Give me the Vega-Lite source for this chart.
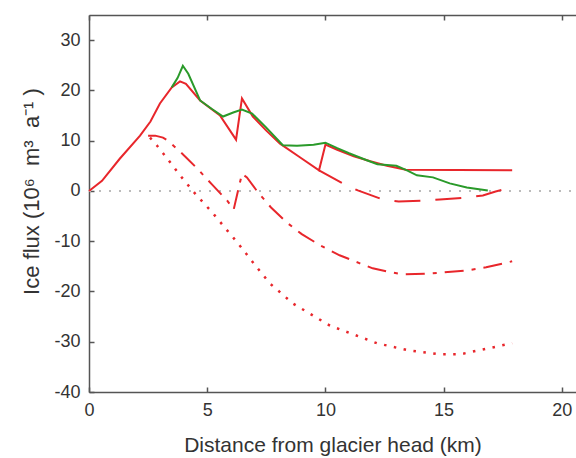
{
  "$schema": "https://vega.github.io/schema/vega-lite/v6.json",
  "width": 487,
  "height": 377,
  "autosize": {"type": "none"},
  "padding": {"left": 89, "top": 15, "right": 0, "bottom": 66},
  "background": "white",
  "view": {"stroke": null},
  "config": {
    "font": "Liberation Sans",
    "axis": {
      "domainColor": "#555555",
      "domainWidth": 1.5,
      "tickColor": "#555555",
      "tickWidth": 1.5,
      "tickSize": -5,
      "grid": false,
      "labelFlush": false,
      "labelColor": "#333333",
      "titleColor": "#333333",
      "labelFont": "Liberation Sans",
      "titleFont": "Liberation Sans",
      "labelFontSize": 18,
      "titleFontSize": 21,
      "titleFontWeight": "normal"
    }
  },
  "datasets": {
    "lines": [
      {"series": "zero", "x": 0, "y": 0},
      {"series": "zero", "x": 20.6, "y": 0},

      {"series": "solid", "x": 0, "y": 0},
      {"series": "solid", "x": 0.55, "y": 2.0},
      {"series": "solid", "x": 1.3, "y": 6.4},
      {"series": "solid", "x": 2.16, "y": 11.0},
      {"series": "solid", "x": 2.6, "y": 13.8},
      {"series": "solid", "x": 3.0, "y": 17.4},
      {"series": "solid", "x": 3.5, "y": 20.6},
      {"series": "solid", "x": 3.85, "y": 21.8},
      {"series": "solid", "x": 4.1, "y": 21.3},
      {"series": "solid", "x": 4.7, "y": 18.0},
      {"series": "solid", "x": 5.54, "y": 15.0},
      {"series": "solid", "x": 6.22, "y": 10.2},
      {"series": "solid", "x": 6.47, "y": 18.4},
      {"series": "solid", "x": 6.93, "y": 14.8},
      {"series": "solid", "x": 7.5, "y": 12.0},
      {"series": "solid", "x": 8.08, "y": 9.4},
      {"series": "solid", "x": 8.92, "y": 6.7},
      {"series": "solid", "x": 9.73, "y": 4.1},
      {"series": "solid", "x": 10.0, "y": 9.2},
      {"series": "solid", "x": 10.5, "y": 8.2},
      {"series": "solid", "x": 11.2, "y": 6.9},
      {"series": "solid", "x": 11.9, "y": 5.9},
      {"series": "solid", "x": 12.6, "y": 5.0},
      {"series": "solid", "x": 13.4, "y": 4.2},
      {"series": "solid", "x": 17.9, "y": 4.1},

      {"series": "longdash", "x": 9.73, "y": 4.1},
      {"series": "longdash", "x": 10.74, "y": 1.5},
      {"series": "longdash", "x": 11.37, "y": 0.1},
      {"series": "longdash", "x": 12.43, "y": -1.7},
      {"series": "longdash", "x": 13.1, "y": -2.1},
      {"series": "longdash", "x": 14.2, "y": -1.9},
      {"series": "longdash", "x": 14.84, "y": -1.7},
      {"series": "longdash", "x": 15.98, "y": -1.3},
      {"series": "longdash", "x": 16.66, "y": -0.9},
      {"series": "longdash", "x": 17.2, "y": -0.1},
      {"series": "longdash", "x": 17.9, "y": 0.7},

      {"series": "dashdot", "x": 2.5, "y": 11.0},
      {"series": "dashdot", "x": 2.8, "y": 11.0},
      {"series": "dashdot", "x": 3.13, "y": 10.6},
      {"series": "dashdot", "x": 3.34, "y": 10.0},
      {"series": "dashdot", "x": 3.9, "y": 7.6},
      {"series": "dashdot", "x": 4.57, "y": 4.5},
      {"series": "dashdot", "x": 5.2, "y": 1.3},
      {"series": "dashdot", "x": 5.84, "y": -1.9},
      {"series": "dashdot", "x": 6.12, "y": -3.7},
      {"series": "dashdot", "x": 6.47, "y": 3.4},
      {"series": "dashdot", "x": 6.68, "y": 2.7},
      {"series": "dashdot", "x": 7.15, "y": -0.3},
      {"series": "dashdot", "x": 7.7, "y": -3.3},
      {"series": "dashdot", "x": 8.37, "y": -6.3},
      {"series": "dashdot", "x": 9.0, "y": -8.6},
      {"series": "dashdot", "x": 9.77, "y": -10.8},
      {"series": "dashdot", "x": 10.6, "y": -12.8},
      {"series": "dashdot", "x": 11.46, "y": -14.4},
      {"series": "dashdot", "x": 12.0, "y": -15.4},
      {"series": "dashdot", "x": 12.7, "y": -16.1},
      {"series": "dashdot", "x": 13.3, "y": -16.6},
      {"series": "dashdot", "x": 14.2, "y": -16.5},
      {"series": "dashdot", "x": 15.0, "y": -16.2},
      {"series": "dashdot", "x": 16.0, "y": -15.8},
      {"series": "dashdot", "x": 16.8, "y": -15.2},
      {"series": "dashdot", "x": 17.9, "y": -14.0},

      {"series": "dotted", "x": 2.58, "y": 10.6},
      {"series": "dotted", "x": 2.88, "y": 9.0},
      {"series": "dotted", "x": 3.3, "y": 6.5},
      {"series": "dotted", "x": 3.8, "y": 3.4},
      {"series": "dotted", "x": 4.5, "y": -0.6},
      {"series": "dotted", "x": 5.2, "y": -4.2},
      {"series": "dotted", "x": 5.8, "y": -7.6},
      {"series": "dotted", "x": 6.3, "y": -10.4},
      {"series": "dotted", "x": 7.1, "y": -15.2},
      {"series": "dotted", "x": 7.65, "y": -18.4},
      {"series": "dotted", "x": 8.63, "y": -22.4},
      {"series": "dotted", "x": 10.19, "y": -26.8},
      {"series": "dotted", "x": 12.18, "y": -30.3},
      {"series": "dotted", "x": 13.5, "y": -31.7},
      {"series": "dotted", "x": 14.84, "y": -32.5},
      {"series": "dotted", "x": 15.7, "y": -32.5},
      {"series": "dotted", "x": 16.5, "y": -31.7},
      {"series": "dotted", "x": 17.9, "y": -30.3},

      {"series": "green", "x": 3.5, "y": 20.6},
      {"series": "green", "x": 3.75, "y": 22.5},
      {"series": "green", "x": 3.97, "y": 24.9},
      {"series": "green", "x": 4.2, "y": 23.3},
      {"series": "green", "x": 4.7, "y": 18.0},
      {"series": "green", "x": 5.2, "y": 16.3},
      {"series": "green", "x": 5.67, "y": 14.8},
      {"series": "green", "x": 6.1, "y": 15.6},
      {"series": "green", "x": 6.47, "y": 16.2},
      {"series": "green", "x": 6.9, "y": 15.4},
      {"series": "green", "x": 7.5, "y": 12.6},
      {"series": "green", "x": 8.2, "y": 9.1},
      {"series": "green", "x": 8.8, "y": 9.0},
      {"series": "green", "x": 9.5, "y": 9.2},
      {"series": "green", "x": 10.0, "y": 9.6},
      {"series": "green", "x": 10.5, "y": 8.5},
      {"series": "green", "x": 11.0, "y": 7.5},
      {"series": "green", "x": 11.75, "y": 6.1},
      {"series": "green", "x": 12.2, "y": 5.3},
      {"series": "green", "x": 13.0, "y": 5.0},
      {"series": "green", "x": 13.45, "y": 4.1},
      {"series": "green", "x": 13.87, "y": 3.1},
      {"series": "green", "x": 14.55, "y": 2.7},
      {"series": "green", "x": 15.26, "y": 1.5},
      {"series": "green", "x": 15.98, "y": 0.7},
      {"series": "green", "x": 16.87, "y": 0.1}
    ]
  },
  "data": {"name": "lines"},
  "encoding": {
    "y": {
      "field": "y", "type": "quantitative",
      "scale": {"domain": [-40, 35], "nice": false, "zero": false},
      "axis": {
        "values": [-40, -30, -20, -10, 0, 10, 20, 30],
        "labelExpr": "'' + datum.value",
        "title": "Ice flux (10⁶\u00a0 m³\u00a0 a⁻¹\u00a0)",
        "titleFontSize": 22,
        "labelPadding": 14,
        "titleX": -46,
        "titleY": 176
      }
    }
  },
  "layer": [
    {
      "transform": [{"filter": "datum.series === 'zero'"}],
      "mark": {"type": "line", "color": "#bbbbbb", "strokeWidth": 2, "strokeDash": [2, 8]},
      "encoding": {
        "x": {
          "field": "x", "type": "quantitative",
          "scale": {"domain": [0, 20.6], "nice": false, "zero": false},
          "axis": {"orient": "top", "values": [0, 5, 10, 15, 20], "labels": false, "title": null}
        }
      }
    },
    {
      "encoding": {
        "x": {
          "field": "x", "type": "quantitative",
          "scale": {"domain": [0, 20.6], "nice": false, "zero": false},
          "axis": {
            "orient": "bottom",
            "values": [0, 5, 10, 15, 20],
            "title": "Distance from glacier head (km)",
            "labelPadding": 14,
            "titlePadding": 15
          }
        }
      },
      "layer": [
        {
          "transform": [{"filter": "datum.series === 'dotted'"}],
          "mark": {"type": "line", "color": "#e8262b", "strokeWidth": 2.5, "strokeDash": [2.5, 7.5]}
        },
        {
          "transform": [{"filter": "datum.series === 'dashdot'"}],
          "mark": {"type": "line", "color": "#e8262b", "strokeWidth": 2, "strokeDash": [19, 8, 4, 8]}
        },
        {
          "transform": [{"filter": "datum.series === 'longdash'"}],
          "mark": {"type": "line", "color": "#e8262b", "strokeWidth": 2, "strokeDash": [26, 15]}
        },
        {
          "transform": [{"filter": "datum.series === 'solid'"}],
          "mark": {"type": "line", "color": "#e8262b", "strokeWidth": 2}
        },
        {
          "transform": [{"filter": "datum.series === 'green'"}],
          "mark": {"type": "line", "color": "#2a9a2a", "strokeWidth": 2}
        }
      ]
    }
  ]
}
